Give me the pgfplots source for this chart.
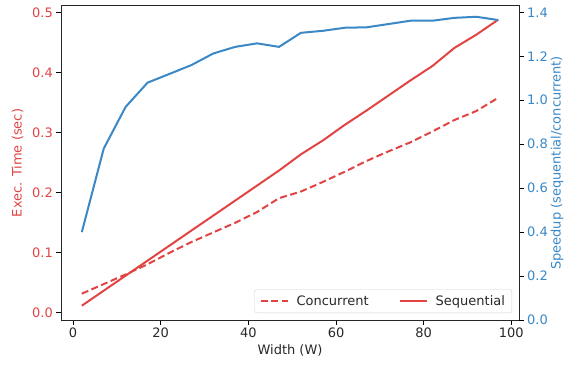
\documentclass[border=0pt]{standalone}
\usepackage{pgfplots}
\pgfplotsset{compat=1.18}
\usepackage{fontspec}
\setmainfont{DejaVu Sans}
\definecolor{myred}{RGB}{226,68,68}
\definecolor{myblue}{RGB}{58,136,198}
\definecolor{txt}{RGB}{40,40,40}
\pgfplotsset{
  common/.style={
    scale only axis, width=458bp, height=314bp,
    at={(0,0)}, anchor=south west,
    xmin=-2.75, xmax=101.75,
    tick align=outside, major tick length=4.6bp,
    every tick/.style={black, line width=1bp},
    axis line style={line width=1bp, black!85},
    /pgf/number format/assume math mode=true,
    tick label style={font=\fontsize{13bp}{15bp}\selectfont},
    label style={font=\fontsize{13bp}{15bp}\selectfont},
  }
}
\begin{document}
\begin{tikzpicture}
\begin{axis}[common,
  ymin=-0.0118, ymax=0.5108,
  tick pos=left,
  xtick={0,20,40,60,80,100},
  ytick={0,0.1,0.2,0.3,0.4,0.5},
  yticklabel style={color=myred, /pgf/number format/.cd, fixed, fixed zerofill, precision=1},
  xticklabel style={color=txt},
  xlabel={Width (W)}, xlabel style={color=txt},
  ylabel={Exec. Time (sec)}, ylabel style={color=myred}, ylabel shift=2bp,
  legend columns=2,
  legend style={at={(0.985,0.022)}, anchor=south east, draw=black!18, rounded corners=2.5bp,
    font=\fontsize{13bp}{15bp}\selectfont, text=txt, inner xsep=5bp, inner ysep=4bp,
    /tikz/every odd column/.append style={column sep=6bp},
    /tikz/every even column/.append style={column sep=28bp}},
  legend image code/.code={\draw[#1] (0bp,0bp) -- (27bp,0bp);},
]
\addplot[myred, line width=2bp, dash pattern=on 7bp off 3.5bp] coordinates {
(2,0.032) (7,0.048) (12,0.064) (17,0.081) (22,0.100) (27,0.118) (32,0.134) (37,0.150)
(42,0.168) (47,0.191) (52,0.202) (57,0.218) (62,0.235) (67,0.253) (72,0.269) (77,0.284)
(82,0.302) (87,0.321) (92,0.336) (97,0.358)};
\addlegendentry{Concurrent}
\addplot[myred, line width=2bp] coordinates {
(2,0.012) (7,0.037) (12,0.062) (17,0.087) (22,0.112) (27,0.137) (32,0.162) (37,0.187)
(42,0.212) (47,0.237) (52,0.264) (57,0.287) (62,0.313) (67,0.337) (72,0.362) (77,0.387)
(82,0.411) (87,0.441) (92,0.463) (97,0.488)};
\addlegendentry{Sequential}
\end{axis}
\begin{axis}[common,
  ymin=0, ymax=1.429,
  axis x line=none,
  axis y line*=right,
  ytick={0,0.2,0.4,0.6,0.8,1.0,1.2,1.4},
  yticklabel style={color=myblue, /pgf/number format/.cd, fixed, fixed zerofill, precision=1},
  ylabel={Speedup (sequential/concurrent)}, ylabel style={color=myblue}, ylabel shift=-4bp,
]
\addplot[myblue, line width=2bp] coordinates {
(2,0.40) (7,0.78) (12,0.97) (17,1.08) (22,1.12) (27,1.16) (32,1.213) (37,1.243)
(42,1.259) (47,1.243) (52,1.307) (57,1.316) (62,1.330) (67,1.332) (72,1.347) (77,1.362)
(82,1.362) (87,1.375) (92,1.380) (97,1.365)};
\end{axis}
\pgfresetboundingbox
\path (-61bp,-48bp) rectangle (504bp,320bp);
\end{tikzpicture}
\end{document}
